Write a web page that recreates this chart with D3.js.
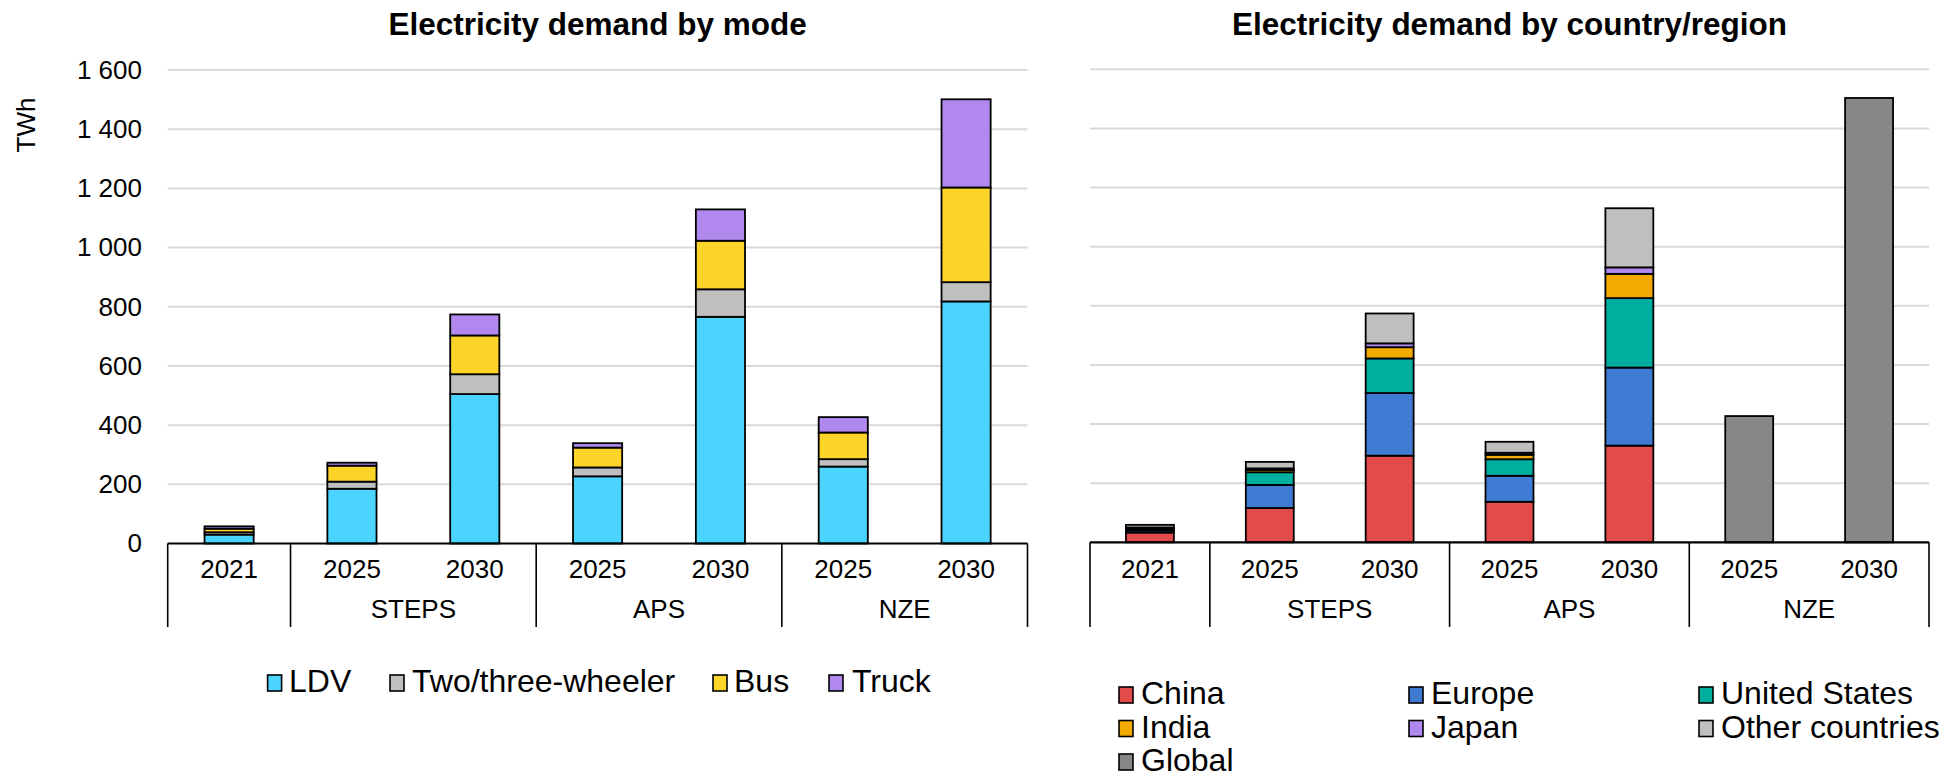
<!DOCTYPE html>
<html><head><meta charset="utf-8">
<script src="https://cdn.jsdelivr.net/npm/d3@7"></script>
<style>
html,body{margin:0;padding:0;background:#fff;}
svg text{font-family:"Liberation Sans",Arial,sans-serif;fill:#000;}
</style></head>
<body>
<svg id="chart" width="1959" height="779"></svg>
<script>
// ---- data ----
const years = ["2021","2025","2030","2025","2030","2025","2030"];
const scenarios = ["", "STEPS", "APS", "NZE"];
const scenarioSpan = [1, 2, 2, 2];
const yTicks = [0,200,400,600,800,1000,1200,1400,1600];

const modeKeys = ["LDV","Two/three-wheeler","Bus","Truck"];
const ldv   = [30, 185, 505, 227, 766, 260, 818];
const twoThree = [8, 24, 67, 30, 93, 25, 65];
const bus   = [12, 54, 131, 67, 164, 90, 320];
const truck = [8, 10, 71, 15, 106, 52, 298];

const regionKeys = ["China","Europe","United States","India","Japan","Other countries","Global"];
const china  = [33, 116, 293, 137, 327, 0, 0];
const europe = [7, 78, 212, 88, 264, 0, 0];
const us     = [6, 43, 117, 56, 235, 0, 0];
const india  = [2, 8, 38, 15, 82, 0, 0];
const japan  = [2, 5, 13, 7, 22, 0, 0];
const other  = [9, 22, 101, 37, 200, 0, 0];
const global = [0, 0, 0, 0, 0, 427, 1503];

const modeColors = ["#4AD4FF","#BFBFBF","#FDD428","#B088EE"];
const regionColors = ["#E24B4A","#3F7AD3","#00AEA0","#F2A900","#B088EE","#BFBFBF","#878787"];

const svg = d3.select("#chart");
const loc = d3.formatLocale({decimal:".", thousands:" ", grouping:[3], currency:["",""]});
const fmt = loc.format(",d");

function drawPanel(opts){
  const {x0, x1, yTop, yBottom, series, keys, colors, title, showY} = opts;
  const g = svg.append("g");
  const idx = d3.range(years.length);
  const x = d3.scaleBand().domain(idx).range([x0, x1]).paddingInner(0.6).paddingOuter(0.3);
  const y = d3.scaleLinear().domain([0,1600]).range([yBottom, yTop]);

  // gridlines
  g.append("g").selectAll("line").data(yTicks.filter(d=>d>0)).join("line")
    .attr("x1", x0).attr("x2", x1)
    .attr("y1", d=>y(d)).attr("y2", d=>y(d))
    .attr("stroke", "#D9D9D9").attr("stroke-width", 2);

  if (showY) {
    const ax = d3.axisLeft(y).tickValues(yTicks).tickFormat(fmt).tickSize(0).tickPadding(0);
    const ag = g.append("g").attr("transform", `translate(142,0)`).call(ax);
    ag.select(".domain").remove();
    ag.selectAll("text").attr("font-size", 26).attr("font-family", "Liberation Sans, Arial, sans-serif").attr("fill","#000");
    g.append("text").attr("transform", `translate(35,125) rotate(-90)`)
      .attr("text-anchor","middle").attr("font-size", 26).text("TWh");
  }

  // stacked bars
  const rows = idx.map(i => { const o = {i}; keys.forEach((k,j)=>o[k]=series[j][i]); return o; });
  const stacked = d3.stack().keys(keys)(rows);
  stacked.forEach((layer, j) => {
    g.append("g").selectAll("rect").data(layer.filter(d => d[1]-d[0] > 0)).join("rect")
      .attr("x", d => x(d.data.i))
      .attr("width", x.bandwidth())
      .attr("y", d => y(d[1]))
      .attr("height", d => y(d[0]) - y(d[1]))
      .attr("fill", colors[j]).attr("stroke", "#000").attr("stroke-width", 1.8);
  });

  // category axis
  const step = x.step();
  g.append("line").attr("x1", x0).attr("x2", x1).attr("y1", y(0)).attr("y2", y(0))
    .attr("stroke","#000").attr("stroke-width",2.2);
  g.append("g").selectAll("text").data(idx).join("text")
    .attr("x", i => x(i) + x.bandwidth()/2).attr("y", 578)
    .attr("text-anchor","middle").attr("font-size", 26).text(i => years[i]);
  let pos = 0;
  const bounds = [x0];
  scenarios.forEach((s, k) => {
    const a = x0 + pos*step, b = x0 + (pos+scenarioSpan[k])*step;
    g.append("text").attr("x", (a+b)/2).attr("y", 618).attr("text-anchor","middle")
      .attr("font-size", 26).text(s);
    pos += scenarioSpan[k];
    bounds.push(b);
  });
  g.append("g").selectAll("line").data(bounds).join("line")
    .attr("x1", d=>d).attr("x2", d=>d).attr("y1", y(0)).attr("y2", 627)
    .attr("stroke","#000").attr("stroke-width",1.6);

  g.append("text").attr("x", (x0+x1)/2).attr("y", 35).attr("text-anchor","middle")
    .attr("font-size", 31.5).attr("font-weight","bold").text(title);
}

drawPanel({x0:167.7, x1:1027.5, yTop:70, yBottom:543.5,
  series:[ldv, twoThree, bus, truck], keys:modeKeys, colors:modeColors,
  title:"Electricity demand by mode", showY:true});
drawPanel({x0:1090, x1:1929, yTop:69.3, yBottom:542.3,
  series:[china, europe, us, india, japan, other, global], keys:regionKeys, colors:regionColors,
  title:"Electricity demand by country/region", showY:false});

// legends
function legendItem(sx, textX, baseline, color, label){
  svg.append("rect").attr("x", sx+1).attr("y", baseline-17).attr("width", 14).attr("height", 16)
    .attr("fill", color).attr("stroke","#000").attr("stroke-width",1.6);
  svg.append("text").attr("x", textX).attr("y", baseline).attr("font-size", 32).text(label);
}
const leftLegendX = [266.6, 389, 712, 828];
const leftLegendTextX = [289, 412, 734, 852];
modeKeys.forEach((k,j)=>legendItem(leftLegendX[j], leftLegendTextX[j], 692, modeColors[j], k));

const rlCols = [1118, 1408, 1698];
const rlRows = [704, 737.5, 771];
regionKeys.forEach((k,j)=>{
  const c = j % 3, r = Math.floor(j/3);
  legendItem(rlCols[c], rlCols[c]+23, rlRows[r], regionColors[j], k);
});
</script>
</body></html>
